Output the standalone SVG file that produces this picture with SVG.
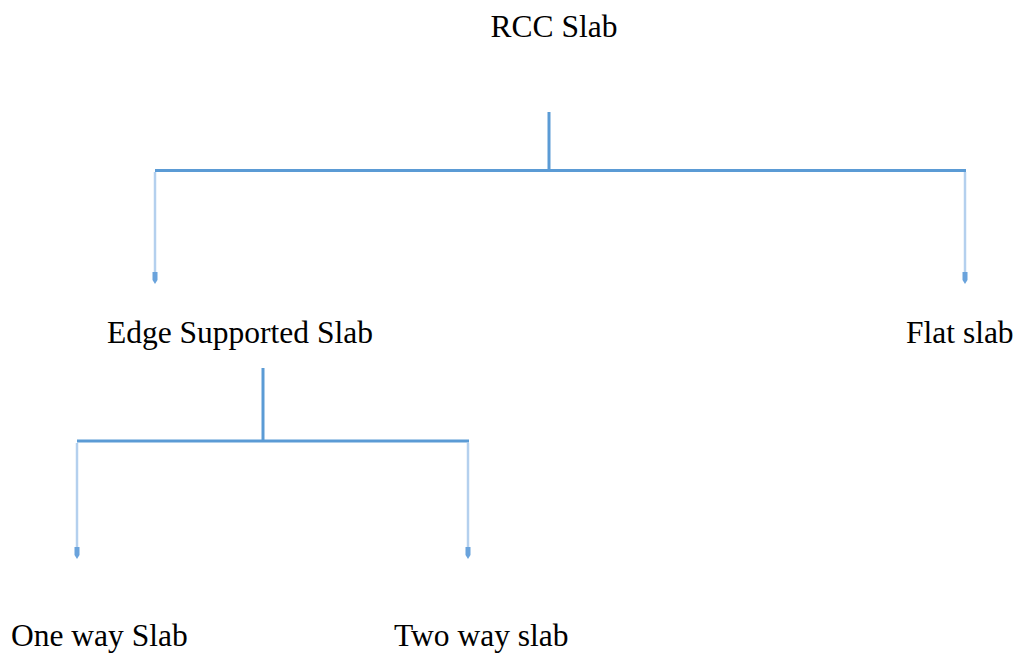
<svg xmlns="http://www.w3.org/2000/svg" width="1018" height="656" viewBox="0 0 1018 656">
<style>
text{font-family:"Liberation Serif","Times New Roman",serif;font-size:31.5px;fill:#000}
.ln{stroke:#5b9bd5;stroke-width:3;fill:none}
.ar{stroke:#b4d0ee;stroke-width:2.5;fill:none}
.hd{fill:#6aa3dc}
</style>
<rect width="1018" height="656" fill="#fff"/>
<g id="connectors">
<line class="ln" x1="549" y1="112" x2="549" y2="170.5"/>
<line class="ln" x1="155" y1="170.5" x2="966" y2="170.5"/>
<line class="ar" x1="155" y1="172" x2="155" y2="274"/>
<path class="hd" d="M152.5,272 L157.5,272 L157.5,280 L155,284 L152.5,280 Z"/>
<line class="ar" x1="965" y1="172" x2="965" y2="274"/>
<path class="hd" d="M962.5,272 L967.5,272 L967.5,280 L965,284 L962.5,280 Z"/>
<line class="ln" x1="263" y1="368" x2="263" y2="441"/>
<line class="ln" x1="77" y1="441" x2="469" y2="441"/>
<line class="ar" x1="77" y1="443" x2="77" y2="549"/>
<path class="hd" d="M74.5,547 L79.5,547 L79.5,555 L77,559 L74.5,555 Z"/>
<line class="ar" x1="468" y1="443" x2="468" y2="549"/>
<path class="hd" d="M465.5,547 L470.5,547 L470.5,555 L468,559 L465.5,555 Z"/>
</g>
<g id="rcc"><text x="554" y="37" text-anchor="middle">RCC Slab</text></g>
<g id="edge"><text x="107" y="343">Edge Supported Slab</text></g>
<g id="flat"><text x="906" y="343">Flat slab</text></g>
<g id="oneway"><text x="11" y="646">One way Slab</text></g>
<g id="twoway"><text x="394" y="646">Two way slab</text></g>
</svg>
